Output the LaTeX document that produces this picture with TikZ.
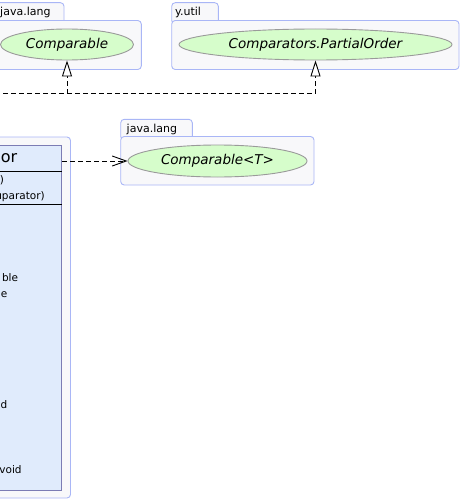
\documentclass[tikz,border=0pt]{standalone}
\usepackage{fontspec}
\setmainfont{DejaVu Sans}
\usetikzlibrary{arrows.meta,shapes.geometric}
\definecolor{pkgfill}{HTML}{F8F8FA}
\definecolor{pkgline}{HTML}{A9B6F6}
\definecolor{ellfill}{HTML}{D6FDCB}
\definecolor{ellline}{HTML}{9A9A9A}
\definecolor{clsfill}{HTML}{E0EBFC}
\definecolor{clsline}{HTML}{7C7CB4}
\begin{document}
\begin{tikzpicture}[x=1pt,y=-1pt,
  pkg/.style={draw=pkgline, fill=pkgfill, line width=0.9pt, rounded corners=3.5pt},
  ell/.style={ellipse, draw=ellline, fill=ellfill, line width=0.9pt, inner sep=0pt,
              font=\fontsize{13.5}{16}\selectfont\itshape},
  tablbl/.style={anchor=base west, inner sep=0pt, font=\fontsize{11}{13}\selectfont},
  mem/.style={anchor=base east, inner sep=0pt, font=\fontsize{10.5}{12}\selectfont},
  comp/.style={draw=clsline, fill=clsfill, line width=0.9pt, inner sep=0pt, anchor=north east},
  sep/.style={draw=black, line width=0.9pt},
  dep/.style={dash pattern=on 5pt off 3pt, line width=0.9pt},
  real/.style={dep, -{Triangle[length=16pt, width=10pt, fill=white]}},
  use/.style={dep, -{Straight Barb[length=14pt, width=10pt]}}
]
\useasboundingbox (0,0) rectangle (462,503);
\clip (0,0) rectangle (462,503);

% package java.lang (top left)
\draw[pkg] (-10,2.7) rectangle (64,24);
\draw[pkg] (-10,20.5) rectangle (141.3,69.5);
\node[tablbl] (p1lbl) at (0,16) {java.lang};
\node[ell, minimum width=133pt, minimum height=31pt] (cmp) at (67,44.5) {Comparable};

% package y.util
\draw[pkg] (171.7,2.7) rectangle (218.3,24);
\draw[pkg] (171.7,20.5) rectangle (459,69.5);
\node[tablbl] (p2lbl) at (175,16) {y.util};
\node[ell, minimum width=273pt, minimum height=31pt] (po) at (315.5,44.5) {Comparators.PartialOrder};

% package java.lang (middle)
\draw[pkg] (120.7,119.3) rectangle (192.3,140);
\draw[pkg] (120.7,136.5) rectangle (314,185);
\node[tablbl] (p3lbl) at (126.5,132.5) {java.lang};
\node[ell, minimum width=179pt, minimum height=32pt] (cmpT) at (217.5,161) {Comparable<T>};

% class (cut at left)
\draw[pkg] (-20,137) rectangle (70.5,498);
\node[comp, minimum width=212pt, minimum height=345pt] (cls) at (62,145) {};
\coordinate (clshead) at (62,158);
\draw[sep] ([yshift=-26pt]cls.north west) -- ([yshift=-26pt]cls.north east);
\draw[sep] ([yshift=-59pt]cls.north west) -- ([yshift=-59pt]cls.north east);
\node[anchor=base east, inner sep=0pt, font=\fontsize{16}{19}\selectfont] (hd) at (17.5,162) {or};
\node[mem] (m1) at (4.2,183) {)};
\node[mem] (m2) at (45,199.5) {uparator)};
\node[mem] (m3) at (18.3,281.5) {ble};
\node[mem] (m4) at (7.5,297) {e};
\node[mem] (m5) at (7.5,408) {d};
\node[mem] (m6) at (21.8,473) {void};

% connectors
\coordinate (lstart) at (-5,93.5);
\draw[dep] (lstart) -- (po.south |- lstart);
\draw[real] (po.south |- lstart) -- (po.south);
\draw[real] (cmp.south |- lstart) -- (cmp.south);
\draw[use] (cls.east |- cmpT.west) -- (cmpT.west);
\end{tikzpicture}
\end{document}
